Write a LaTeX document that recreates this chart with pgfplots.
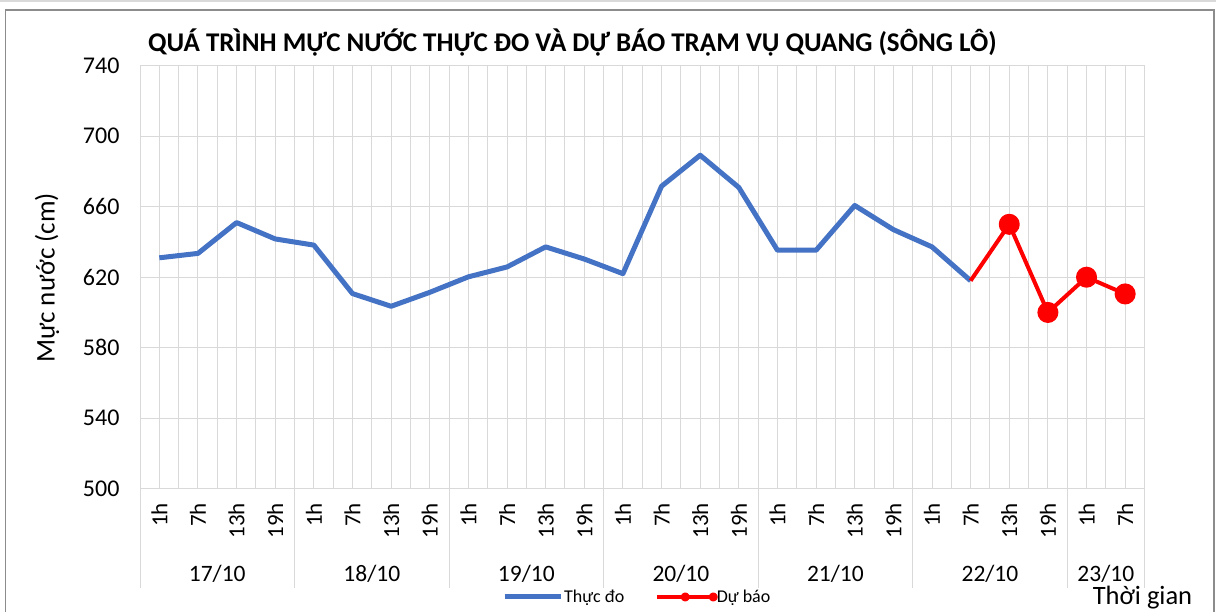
\documentclass[border=0pt]{standalone}
\usepackage{pgfplots}
\pgfplotsset{compat=1.18}
\usepackage{fontspec}
\setmainfont{Carlito}
\definecolor{blueline}{RGB}{68,114,196}
\definecolor{gridc}{RGB}{217,217,217}
\definecolor{borderc}{RGB}{140,140,140}
\begin{document}
\begin{tikzpicture}[x=1pt,y=1pt]
\useasboundingbox (0,0) rectangle (1216,612);
\fill[gridc] (0,610) rectangle (1216,612);
\draw[borderc, line width=1.2pt] (5.5,0) -- (5.5,602) -- (1214,602) -- (1214,0);
\node[anchor=base, font=\bfseries\fontsize{27}{27}\selectfont] at (572.5,560) {QUÁ TRÌNH MỰC NƯỚC THỰC ĐO VÀ DỰ BÁO TRẠM VỤ QUANG (SÔNG LÔ)};
\node[rotate=90, font=\fontsize{27}{27}\selectfont] at (47,334) {Mực nước (cm)};
\node[anchor=base, font=\fontsize{26.5}{26.5}\selectfont] at (1142.5,7) {Thời gian};
\begin{axis}[
 at={(140pt,123.3pt)}, anchor=south west,
 scale only axis, width=1004.5pt, height=423pt,
 xmin=-0.5, xmax=25.5, ymin=500, ymax=740,
 ytick={500,540,...,740},
 xtick={0,...,25},
 xticklabels={1h,7h,13h,19h,1h,7h,13h,19h,1h,7h,13h,19h,1h,7h,13h,19h,1h,7h,13h,19h,1h,7h,13h,19h,1h,7h},
 minor xtick={-0.5,0.5,...,25.5},
 xmajorgrids, xminorgrids, ymajorgrids,
 grid style={gridc, line width=1pt},
 minor grid style={gridc, line width=1pt},
 axis line style={gridc, line width=1pt},
 major tick length=0pt, minor tick length=0pt,
 tick style={draw=none},
 xticklabel style={yshift=-11pt, rotate=90, anchor=east, font=\fontsize{23}{23}\selectfont},
 yticklabel style={font=\fontsize{24}{24}\selectfont, xshift=-17pt},
 /pgf/number format/assume math mode=true,
 clip=false,
 legend columns=2,
 legend style={at={(0.4945,-0.256)}, anchor=center, draw=none, fill=none, font=\fontsize{18}{18}\selectfont,
   nodes={inner sep=1pt}, /tikz/every even column/.append style={column sep=30pt}},
 legend image code/.code={\draw[mark repeat=2,mark phase=2,#1] plot coordinates {(0pt,0pt) (28pt,0pt) (56pt,0pt)};},
]
\addplot[blueline, line width=5pt, line join=round] coordinates {
(0,631) (1,633.5) (2,651) (3,641.7) (4,638.2) (5,610.7) (6,603.5) (7,611.4) (8,620.2) (9,625.8) (10,637.2) (11,630.3) (12,622)
(13,671.6) (14,689.2) (15,670.9) (16,635.3) (17,635.3) (18,660.7) (19,647) (20,637.2) (21,618)};
\addplot[red, line width=4pt, line join=round, mark=*, mark size=8.5pt, mark indices={2,3,4,5}, legend image post style={mark size=2.5pt, line width=4pt}] coordinates {
(21,618) (22,650) (23,600) (24,620) (25,610.5)};
\legend{Thực đo, Dự báo}
\draw[gridc, line width=1pt] (axis cs:-0.5,500) -- ++(0pt,-99.5pt);
\draw[gridc, line width=1pt] (axis cs:3.5,500) -- ++(0pt,-99.5pt);
\draw[gridc, line width=1pt] (axis cs:7.5,500) -- ++(0pt,-99.5pt);
\draw[gridc, line width=1pt] (axis cs:11.5,500) -- ++(0pt,-99.5pt);
\draw[gridc, line width=1pt] (axis cs:15.5,500) -- ++(0pt,-99.5pt);
\draw[gridc, line width=1pt] (axis cs:19.5,500) -- ++(0pt,-99.5pt);
\draw[gridc, line width=1pt] (axis cs:23.5,500) -- ++(0pt,-99.5pt);
\draw[gridc, line width=1pt] (axis cs:25.5,500) -- ++(0pt,-99.5pt);
\node[font=\fontsize{23.5}{23.5}\selectfont] at (axis cs:1.5,500) [yshift=-85pt] {17/10};
\node[font=\fontsize{23.5}{23.5}\selectfont] at (axis cs:5.5,500) [yshift=-85pt] {18/10};
\node[font=\fontsize{23.5}{23.5}\selectfont] at (axis cs:9.5,500) [yshift=-85pt] {19/10};
\node[font=\fontsize{23.5}{23.5}\selectfont] at (axis cs:13.5,500) [yshift=-85pt] {20/10};
\node[font=\fontsize{23.5}{23.5}\selectfont] at (axis cs:17.5,500) [yshift=-85pt] {21/10};
\node[font=\fontsize{23.5}{23.5}\selectfont] at (axis cs:21.5,500) [yshift=-85pt] {22/10};
\node[font=\fontsize{23.5}{23.5}\selectfont] at (axis cs:24.5,500) [yshift=-85pt] {23/10};
\end{axis}
\end{tikzpicture}
\end{document}
